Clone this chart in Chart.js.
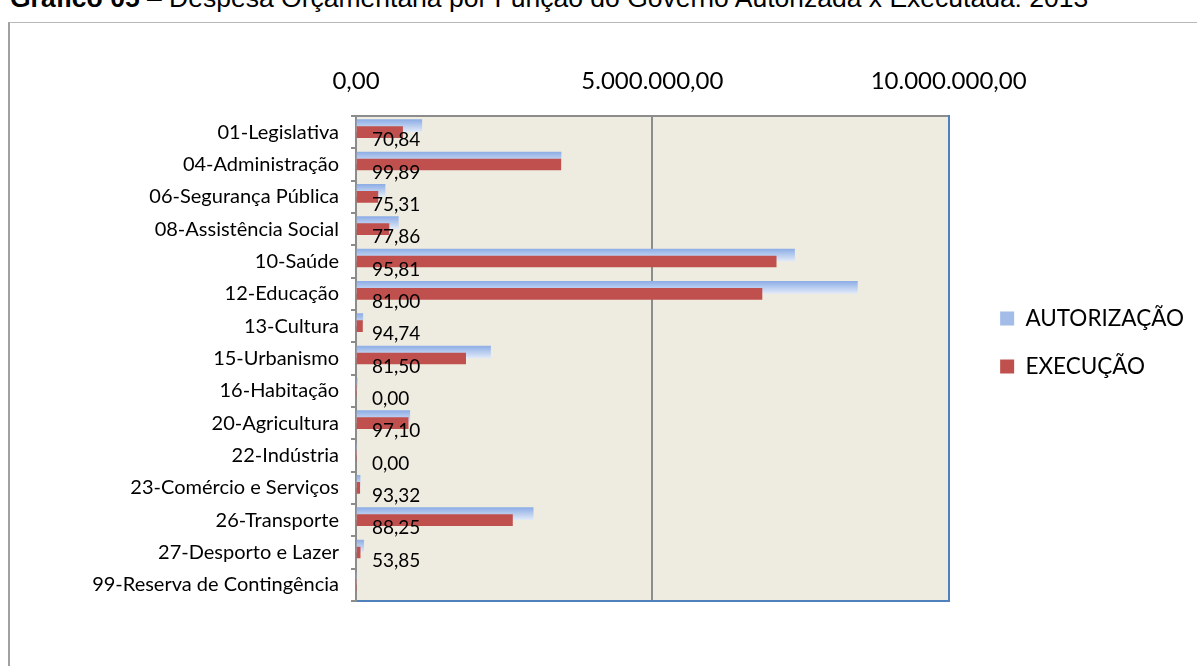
<!DOCTYPE html>
<html>
<head>
<meta charset="utf-8">
<script src="https://cdn.jsdelivr.net/npm/chart.js@4.4.0/dist/chart.umd.min.js"></script>
<style>
body { margin: 0; background: #fff; width: 1197px; height: 666px; overflow: hidden; position: relative; }
#title { position: absolute; left: 10px; top: -17px; font-family: 'Liberation Sans', Arial, sans-serif; font-size: 26.5px; white-space: nowrap; color: #000; }
#frame { position: absolute; left: 8px; top: 22px; width: 1300px; height: 800px; border-left: 2px solid #a0a0a0; border-top: 1px solid #b8b8b8; }
#wrap { position: absolute; left: 0; top: 0; width: 1197px; height: 666px; }
</style>
</head>
<body>
<div id="title"><b>Gráfico 05</b> – Despesa Orçamentária por Função do Governo Autorizada x Executada: 2013</div>
<div id="frame"></div>
<div id="wrap"><canvas id="chart"></canvas></div>
<script>
const categories = ['01-Legislativa', '04-Administração', '06-Segurança Pública', '08-Assistência Social',
    '10-Saúde', '12-Educação', '13-Cultura', '15-Urbanismo', '16-Habitação', '20-Agricultura',
    '22-Indústria', '23-Comércio e Serviços', '26-Transporte', '27-Desporto e Lazer', '99-Reserva de Contingência'];
const autorizacao = [1110000, 3460000, 490000, 714000, 7400000, 8460000, 115000, 2270000, 20000, 907000,
    0, 68000, 2990000, 130000, 0];
const execucao = [786000, 3456000, 369000, 556000, 7090000, 6850000, 109000, 1850000, 0, 880000,
    0, 63000, 2640000, 70000, 0];
const percentual = [70.84, 99.89, 75.31, 77.86, 95.81, 81.00, 94.74, 81.50, 0.00, 97.10,
    0.00, 93.32, 88.25, 53.85, null];
const xTicks = [0, 5000000, 10000000];

// the two series overlap a bit inside each category band (like the Excel original)
const blueShift = -0.2;
const redShift = 0;

function fmtBR(v, dec) {
    const parts = v.toFixed(dec).split('.');
    parts[0] = parts[0].replace(/\B(?=(\d{3})+(?!\d))/g, '.');
    return parts.join(',');
}

const bgPlugin = {
    id: 'plotBg',
    beforeDraw(chart) {
        const a = chart.chartArea, ctx = chart.ctx;
        ctx.save();
        ctx.fillStyle = '#EEECE1';
        ctx.fillRect(a.left, a.top, a.right - a.left, a.bottom - a.top);
        ctx.restore();
    }
};

const pctPlugin = {
    id: 'pctLabels',
    afterDatasetsDraw(chart) {
        const ctx = chart.ctx, ys = chart.scales.y, a = chart.chartArea;
        ctx.save();
        ctx.font = '19px Lato';
        ctx.fillStyle = '#000';
        ctx.textAlign = 'left';
        ctx.textBaseline = 'middle';
        percentual.forEach((p, i) => {
            if (p === null) return;
            ctx.fillText(fmtBR(p, 2), a.left + 16, ys.getPixelForValue(i) + 8);
        });
        ctx.restore();
    }
};

function blueFill(c) {
    if (c.type !== 'data' || !c.raw) return '#A9C0E8';
    const ys = c.chart.scales.y;
    if (!ys || ys.top === undefined) return '#A9C0E8';
    const yc = ys.getPixelForValue(c.raw.y);
    const g = c.chart.ctx.createLinearGradient(0, yc - 6, 0, yc + 6);
    g.addColorStop(0, '#8EAEE6');
    g.addColorStop(1, '#E0E9F7');
    return g;
}

new Chart(document.getElementById('chart'), {
    type: 'bar',
    data: {
        datasets: [{
            label: 'AUTORIZAÇÃO',
            data: autorizacao.map((v, i) => ({x: v, y: i + blueShift})),
            backgroundColor: blueFill,
            barThickness: 12,
            grouped: false,
            order: 2
        }, {
            label: 'EXECUÇÃO',
            data: execucao.map((v, i) => ({x: v, y: i + redShift})),
            backgroundColor: '#C0504D',
            barThickness: 11,
            grouped: false,
            order: 1
        }]
    },
    options: {
        indexAxis: 'y',
        responsive: true,
        maintainAspectRatio: false,
        animation: false,
        layout: { padding: { left: 0, top: 0, right: 3, bottom: 65 } },
        scales: {
            x: {
                position: 'top',
                min: 0,
                max: 10000000,
                afterBuildTicks: s => { s.ticks = xTicks.map(v => ({value: v})); },
                afterFit: s => { s.height = 116; },
                ticks: {
                    callback: v => fmtBR(v, 2),
                    font: { family: 'Lato', size: 24 },
                    color: '#000',
                    padding: 20,
                    maxRotation: 0
                },
                grid: {
                    color: c => (c.tick && c.tick.value === 5000000) ? '#8c8c8c' : 'rgba(0,0,0,0)',
                    lineWidth: 2,
                    drawTicks: false
                },
                border: { color: '#8c8c8c', width: 2 }
            },
            x2: {
                type: 'linear',
                position: 'bottom',
                afterFit: s => { s.height = 0; },
                ticks: { display: false },
                grid: { display: false },
                border: { color: '#4F81BD', width: 2 }
            },
            y: {
                type: 'linear',
                min: -0.5,
                max: categories.length - 0.5,
                reverse: true,
                offset: false,
                afterBuildTicks: s => { s.ticks = categories.map((c, i) => ({value: i})); },
                afterFit: s => { s.width = 356; },
                ticks: {
                    callback: v => categories[v],
                    font: { family: 'Lato', size: 20 },
                    color: '#000',
                    padding: 12,
                    autoSkip: false
                },
                grid: { offset: true, drawOnChartArea: false, tickLength: 5, color: '#8c8c8c', lineWidth: 2 },
                border: { color: '#8c8c8c', width: 2 }
            },
            y2: {
                type: 'linear',
                position: 'right',
                afterFit: s => { s.width = 26; },
                ticks: { display: false },
                grid: { display: false },
                border: { color: '#4F81BD', width: 2 }
            }
        },
        plugins: {
            legend: {
                position: 'right',
                align: 'center',
                maxWidth: 300,
                title: { display: true, text: '', padding: 0, font: { size: 70 } },
                labels: {
                    font: { family: 'Lato', size: 22.5 },
                    color: '#000',
                    boxWidth: 14,
                    boxHeight: 14,
                    padding: 25.5,
                    sort: (a, b) => a.datasetIndex - b.datasetIndex,
                    generateLabels: chart => {
                        const items = Chart.defaults.plugins.legend.labels.generateLabels(chart);
                        items.forEach(it => { if (it.datasetIndex === 0) it.fillStyle = '#A3BCE8'; });
                        return items;
                    }
                }
            },
            tooltip: { enabled: false }
        }
    },
    plugins: [bgPlugin, pctPlugin]
});
</script>
</body>
</html>
